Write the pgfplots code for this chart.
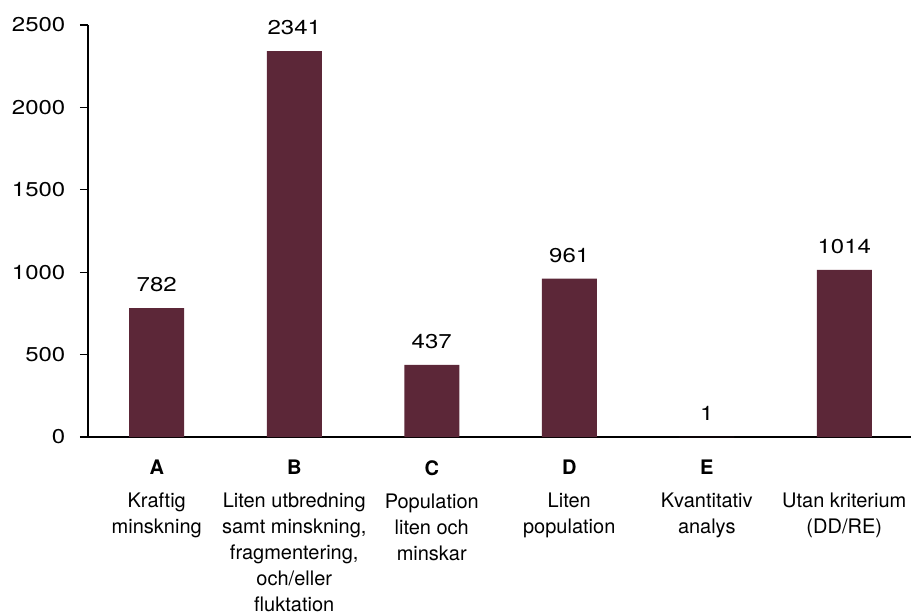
\documentclass[border=0pt]{standalone}
\usepackage{pgfplots}
\pgfplotsset{compat=1.18}
\usepackage{fontspec}
\setmainfont{TeX Gyre Heros}
\newfontfamily\numfont[FakeStretch=1.2]{TeX Gyre Heros}
\definecolor{barred}{RGB}{92,39,56}

\begin{document}
\begin{tikzpicture}
\begin{axis}[
  scale only axis,
  width=618.75pt, height=309pt,
  xmin=-0.5, xmax=5.5,
  ymin=0, ymax=2500,
  axis x line=bottom, axis y line=left,
  axis line style={-, black, line width=0.8pt},
  tick style={black, line width=0.8pt},
  tick align=outside,
  major tick length=6pt,
  minor tick length=4pt,
  ytick={0,500,...,2500},
  xtick=\empty,
  minor xtick={-0.5,0.5,...,5.5},
  extra x ticks={0,1,2,3,4,5},
  extra x tick style={major tick length=0pt, tick style={draw=none}},
  extra x tick labels={
    {\textbf{A}\\[5.25pt]Kraftig\\minskning},
    {\textbf{B}\\[5.25pt]Liten utbredning\\samt minskning,\\fragmentering,\\och/eller\\fluktation},
    {\textbf{C}\\[5.25pt]Population\\liten och\\minskar},
    {\textbf{D}\\[5.25pt]Liten\\population},
    {\textbf{E}\\[5.25pt]Kvantitativ\\analys},
    {\textbf{\phantom{E}}\\[5.25pt]Utan kriterium\\(DD/RE)}},
  xticklabel style={align=center, anchor=north, yshift=-14pt,
    font=\fontsize{15}{19.5}\selectfont},
  yticklabel style={font=\numfont\fontsize{15}{18}\selectfont, xshift=-7.5pt},
  /pgf/number format/assume math mode=true,
  /pgf/number format/1000 sep={},
  ybar, bar width=41.25pt,
  nodes near coords,
  every node near coord/.append style={anchor=south, inner sep=0pt,
    yshift=12pt, font=\numfont\fontsize{15}{18}\selectfont, text=black},
  clip=false,
]
\addplot[fill=barred, draw=none] coordinates {
  (0,782) (1,2341) (2,437) (3,961) (4,1) (5,1014)
};
\end{axis}
\pgfresetboundingbox
\path[use as bounding box] (-66pt,-131.25pt) rectangle (617.25pt,327.75pt);
\end{tikzpicture}
\end{document}
